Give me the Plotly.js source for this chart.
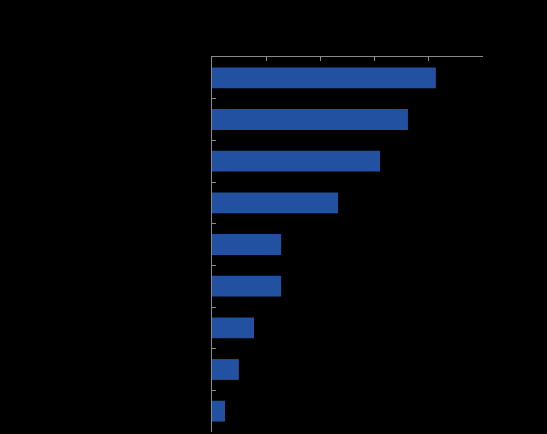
<!DOCTYPE html>
<html>
<head>
<meta charset="utf-8">
<script src="https://cdn.plot.ly/plotly-3.0.1.min.js"></script>
<style>
  html, body { margin: 0; padding: 0; background: #000; }
  #chart { width: 547px; height: 434px; }
</style>
</head>
<body>
<div id="chart"></div>
<script>
const categories = ["Category 1", "Category 2", "Category 3", "Category 4", "Category 5",
                    "Category 6", "Category 7", "Category 8", "Category 9"];
const values = [82.6, 72.3, 62.0, 46.5, 25.5, 25.5, 15.5, 9.9, 4.8];
const xTickValues = [0, 20, 40, 60, 80, 100];

const trace = {
  type: "bar",
  orientation: "h",
  x: values,
  y: categories,
  marker: { color: "#2351A2" },
  hoverinfo: "x+y"
};

const layout = {
  width: 547,
  height: 434,
  paper_bgcolor: "#000000",
  plot_bgcolor: "#000000",
  margin: { l: 212, r: 64, t: 57, b: 2, pad: 0 },
  bargap: 0.5,
  showlegend: false,
  font: { family: "Liberation Sans, Arial, sans-serif", size: 11, color: "#000000" },
  xaxis: {
    side: "top",
    range: [0, 100],
    tickvals: xTickValues,
    ticks: "inside",
    ticklen: 4,
    tickcolor: "#898989",
    showline: true,
    linecolor: "#898989",
    linewidth: 1,
    showgrid: false,
    zeroline: false,
    tickfont: { color: "#000000" }
  },
  yaxis: {
    type: "category",
    autorange: "reversed",
    ticks: "inside",
    tickson: "boundaries",
    ticklen: 4,
    tickcolor: "#898989",
    showline: true,
    linecolor: "#898989",
    linewidth: 1,
    showgrid: false,
    zeroline: false,
    tickfont: { color: "#000000" }
  }
};

Plotly.newPlot("chart", [trace], layout, { displayModeBar: false, staticPlot: true });
</script>
</body>
</html>
